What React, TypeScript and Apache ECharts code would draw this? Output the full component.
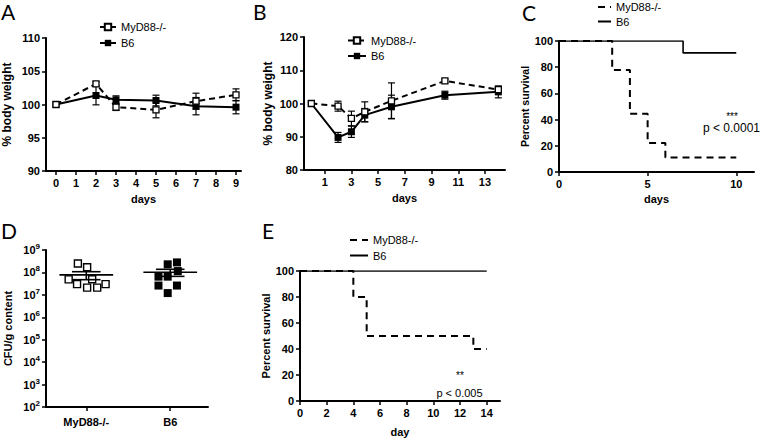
import React, { useEffect, useRef } from 'react';
import * as echarts from 'echarts';

// ---- Panel A: body weight ----
const aDays = [0, 2, 3, 5, 7, 9];
const aMyd88 = [100, 103.1, 99.6, 99.2, 100.5, 101.45];
const aMyd88Err = [0, 0.3, 0.5, 1.2, 1.2, 0.9];
const aB6 = [100, 101.35, 100.7, 100.6, 99.75, 99.6];
const aB6Err = [0, 1.4, 0.6, 0.8, 1.3, 1.0];
const aTicks = [0, 1, 2, 3, 4, 5, 6, 7, 8, 9];

// ---- Panel B: body weight ----
const bDays = [0, 2, 3, 4, 6, 10, 14];
const bMyd88 = [100, 99.2, 95.5, 97.5, 100.8, 106.8, 104.2];
const bMyd88Err = [0, 1.5, 2.2, 3.0, 5.4, 0.5, 0.7];
const bB6 = [100, 89.8, 91.5, 96.5, 99.0, 102.5, 103.5];
const bB6Err = [0, 1.5, 1.7, 2.0, 3.5, 1.2, 1.8];
const bTicks = [1, 3, 5, 7, 9, 11, 13];

// ---- Panel C: survival ----
const cMyd88Days = [0, 3, 4, 5, 6, 10];
const cMyd88Surv = [100, 77.8, 44.4, 22.2, 11.1, 11.1];
const cB6Days = [0, 7, 10];
const cB6Surv = [100, 90.9, 90.9];
const cTicks = [0, 5, 10];

// ---- Panel D: CFU ----
const dGroups = ['MyD88-/-', 'B6'];
const dMyd88Cfu = [2.5e8, 1.7e8, 4.9e7, 5.0e7, 3.0e7, 2.1e7, 2.1e7, 3.0e7];
const dMyd88Jitter = [-0.1, 0.01, -0.21, 0.07, -0.11, 0.01, 0.13, 0.23];
const dB6Cfu = [2.3e8, 2.8e8, 1.15e8, 6.5e7, 6.5e7, 2.6e7, 2.6e7, 1.2e7];
const dB6Jitter = [-0.03, 0.08, 0.09, -0.14, -0.03, -0.14, 0.08, -0.03];

// ---- Panel E: survival ----
const eMyd88Days = [0, 4, 5, 13, 14];
const eMyd88Surv = [100, 80, 50, 40, 40];
const eB6Days = [0, 14];
const eB6Surv = [100, 100];
const eTicks = [0, 2, 4, 6, 8, 10, 12, 14];

const FONT = 'Liberation Sans, Arial, sans-serif';
const zip = (xs: number[], ys: number[]) => xs.map((x, i) => [x, ys[i]]);

function meanSem(v: number[]) {
  const n = v.length;
  const m = v.reduce((a, b) => a + b, 0) / n;
  const sd = Math.sqrt(v.reduce((a, b) => a + (b - m) * (b - m), 0) / (n - 1));
  return [m, sd / Math.sqrt(n)];
}

function axisBase(extra: any) {
  return {
    nameLocation: 'middle',
    axisLine: { show: true, onZero: false, lineStyle: { color: '#000', width: 2 } },
    axisTick: { show: true, length: 4, lineStyle: { color: '#000', width: 1.5 } },
    splitLine: { show: false },
    nameTextStyle: { color: '#000', fontWeight: 'bold', fontSize: 11, fontFamily: FONT },
    ...extra,
    axisLabel: { color: '#000', fontWeight: 'bold', fontSize: 11, fontFamily: FONT, margin: 6, ...(extra.axisLabel || {}) },
  };
}

function errSeries(days: number[], vals: number[], errs: number[], idx: number) {
  return {
    type: 'custom',
    xAxisIndex: idx,
    yAxisIndex: idx,
    z: 1,
    silent: true,
    data: days.map((d, i) => [d, vals[i], errs[i]]),
    renderItem: (_p: any, api: any) => {
      const x = api.value(0), y = api.value(1), e = api.value(2);
      if (!e) return { type: 'group', children: [] };
      const t = api.coord([x, y + e]);
      const b = api.coord([x, y - e]);
      const hw = 3.5;
      const st = { stroke: '#000', lineWidth: 1.2 };
      return {
        type: 'group',
        children: [
          { type: 'line', shape: { x1: t[0], y1: t[1], x2: b[0], y2: b[1] }, style: st },
          { type: 'line', shape: { x1: t[0] - hw, y1: t[1], x2: t[0] + hw, y2: t[1] }, style: st },
          { type: 'line', shape: { x1: b[0] - hw, y1: b[1], x2: b[0] + hw, y2: b[1] }, style: st },
        ],
      };
    },
  };
}

function weightLines(prefix: string, days: number[], my: number[], b6: number[], idx: number) {
  return [
    {
      name: prefix + '|MyD88-/-', type: 'line', xAxisIndex: idx, yAxisIndex: idx, z: 3,
      data: zip(days, my), symbol: 'rect', symbolSize: 6,
      lineStyle: { color: '#000', width: 2, type: [6, 4] },
      itemStyle: { color: '#fff', borderColor: '#000', borderWidth: 1.3 },
    },
    {
      name: prefix + '|B6', type: 'line', xAxisIndex: idx, yAxisIndex: idx, z: 2,
      data: zip(days, b6), symbol: 'rect', symbolSize: 7,
      lineStyle: { color: '#000', width: 2, type: 'solid' },
      itemStyle: { color: '#000', borderColor: '#000', borderWidth: 0 },
    },
  ];
}

function survLines(prefix: string, myD: number[], myS: number[], b6D: number[], b6S: number[], idx: number) {
  return [
    {
      name: prefix + '|MyD88-/-', type: 'line', step: 'end', xAxisIndex: idx, yAxisIndex: idx, z: 3,
      data: zip(myD, myS), symbol: 'none',
      lineStyle: { color: '#000', width: 2, type: [7, 5] },
      itemStyle: { color: '#000' },
    },
    {
      name: prefix + '|B6', type: 'line', step: 'end', xAxisIndex: idx, yAxisIndex: idx, z: 2,
      data: zip(b6D, b6S), symbol: 'none',
      lineStyle: { color: '#000', width: 1.6, type: 'solid' },
      itemStyle: { color: '#000' },
    },
  ];
}

function legend(prefix: string, left: number, top: number, itemWidth: number, itemGap: number, itemHeight: number, hideSymbol: boolean) {
  const names = [prefix + '|MyD88-/-', prefix + '|B6'];
  return {
    left, top, orient: 'vertical', padding: 0, itemWidth, itemHeight, itemGap,
    selectedMode: false,
    data: hideSymbol ? names.map((n) => ({ name: n, itemStyle: { opacity: 0 } })) : names,
    formatter: (n: string) => n.split('|')[1],
    textStyle: { color: '#000', fontSize: 11, fontFamily: FONT },
  };
}

export default function App() {
  const ref = useRef<HTMLDivElement>(null);
  useEffect(() => {
    document.body.style.margin = '0';
    const chart = echarts.init(ref.current!, null, { renderer: 'svg' });
    const dMy = meanSem(dMyd88Cfu);
    const dB = meanSem(dB6Cfu);

    const option: any = {
      animation: false,
      textStyle: { fontFamily: FONT },
      grid: [
        { left: 46, top: 38, width: 195, height: 133 },
        { left: 304, top: 37, width: 201, height: 133 },
        { left: 559, top: 41, width: 195, height: 131 },
        { left: 46, top: 250, width: 162, height: 157 },
        { left: 300, top: 271, width: 200, height: 134 },
      ],
      xAxis: [
        axisBase({ gridIndex: 0, type: 'value', min: -0.5, max: 9.25, name: 'days', nameGap: 22,
          axisLabel: { customValues: aTicks }, axisTick: { show: true, length: 4, customValues: aTicks, lineStyle: { color: '#000', width: 1.5 } } }),
        axisBase({ gridIndex: 1, type: 'value', min: -0.55, max: 14.5, name: 'days', nameGap: 22,
          axisLabel: { customValues: bTicks }, axisTick: { show: true, length: 4, customValues: bTicks, lineStyle: { color: '#000', width: 1.5 } } }),
        axisBase({ gridIndex: 2, type: 'value', min: 0, max: 11, name: 'days', nameGap: 21,
          axisLabel: { customValues: cTicks }, axisTick: { show: true, length: 4, customValues: cTicks, lineStyle: { color: '#000', width: 1.5 } } }),
        axisBase({ gridIndex: 3, type: 'value', min: 0.52, max: 2.45,
          axisLabel: { customValues: [1, 2], formatter: (v: number) => dGroups[Math.round(v) - 1] || '', margin: 9 },
          axisTick: { show: true, length: 4, customValues: [1, 2], lineStyle: { color: '#000', width: 1.5 } } }),
        axisBase({ gridIndex: 4, type: 'value', min: 0, max: 15, name: 'day', nameGap: 25,
          axisLabel: { customValues: eTicks }, axisTick: { show: true, length: 4, customValues: eTicks, lineStyle: { color: '#000', width: 1.5 } } }),
      ],
      yAxis: [
        axisBase({ gridIndex: 0, type: 'value', min: 90, max: 110, interval: 5, name: '% body weight', nameGap: 33,
          nameTextStyle: { color: '#000', fontWeight: 'bold', fontSize: 12, fontFamily: FONT } }),
        axisBase({ gridIndex: 1, type: 'value', min: 80, max: 120, interval: 10, name: '% body weight', nameGap: 30,
          nameTextStyle: { color: '#000', fontWeight: 'bold', fontSize: 12, fontFamily: FONT } }),
        axisBase({ gridIndex: 2, type: 'value', min: 0, max: 100, interval: 20, name: 'Percent survival', nameGap: 28,
          nameTextStyle: { color: '#000', fontWeight: 'bold', fontSize: 10.5, fontFamily: FONT } }),
        axisBase({ gridIndex: 3, type: 'log', logBase: 10, min: 1e2, max: 1e9, name: 'CFU/g content', nameGap: 33,
          axisLabel: {
            formatter: (v: number) => '{b|10}{s|' + Math.round(Math.log10(v)) + '}',
            rich: {
              b: { fontSize: 11, fontWeight: 'bold', color: '#000', fontFamily: FONT },
              s: { fontSize: 8, fontWeight: 'bold', color: '#000', fontFamily: FONT, padding: [0, 0, 7, 0] },
            },
          } }),
        axisBase({ gridIndex: 4, type: 'value', min: 0, max: 100, interval: 20, name: 'Percent survival', nameGap: 27 }),
      ],
      legend: [
        legend('A', 99, 21.5, 16, 5, 8, false),
        legend('B', 347, 35, 18, 4.5, 8, false),
        legend('C', 597, 1.5, 13, 3.5, 9, true),
        legend('E', 349, 234.5, 18, 4.5, 9, true),
      ],
      series: [
        errSeries(aDays, aMyd88, aMyd88Err, 0),
        errSeries(aDays, aB6, aB6Err, 0),
        ...weightLines('A', aDays, aMyd88, aB6, 0),
        errSeries(bDays, bMyd88, bMyd88Err, 1),
        errSeries(bDays, bB6, bB6Err, 1),
        ...weightLines('B', bDays, bMyd88, bB6, 1),
        ...survLines('C', cMyd88Days, cMyd88Surv, cB6Days, cB6Surv, 2),
        {
          type: 'scatter', xAxisIndex: 3, yAxisIndex: 3, symbol: 'rect', symbolSize: 7, z: 3,
          data: dMyd88Cfu.map((v, i) => [1 + dMyd88Jitter[i], v]),
          itemStyle: { color: '#fff', borderColor: '#000', borderWidth: 1.4, opacity: 1 },
        },
        {
          type: 'scatter', xAxisIndex: 3, yAxisIndex: 3, symbol: 'rect', symbolSize: 8, z: 3,
          data: dB6Cfu.map((v, i) => [2 + dB6Jitter[i], v]),
          itemStyle: { color: '#000', opacity: 1 },
        },
        {
          type: 'custom', xAxisIndex: 3, yAxisIndex: 3, z: 4, silent: true,
          data: [[1, dMy[0], dMy[1]], [2, dB[0], dB[1]]],
          renderItem: (_p: any, api: any) => {
            const x = api.value(0), m = api.value(1), s = api.value(2);
            const st = { stroke: '#000', lineWidth: 1.6 };
            const a = api.coord([x - 0.32, m]), b = api.coord([x + 0.32, m]);
            const ua = api.coord([x - 0.17, m + s]), ub = api.coord([x + 0.17, m + s]);
            const la = api.coord([x - 0.17, m - s]), lb = api.coord([x + 0.17, m - s]);
            const c = api.coord([x, m]);
            return {
              type: 'group',
              children: [
                { type: 'line', shape: { x1: a[0], y1: a[1], x2: b[0], y2: b[1] }, style: st },
                { type: 'line', shape: { x1: ua[0], y1: ua[1], x2: ub[0], y2: ub[1] }, style: st },
                { type: 'line', shape: { x1: la[0], y1: la[1], x2: lb[0], y2: lb[1] }, style: st },
                { type: 'line', shape: { x1: c[0], y1: ua[1], x2: c[0], y2: la[1] }, style: st },
              ],
            };
          },
        },
        ...survLines('E', eMyd88Days, eMyd88Surv, eB6Days, eB6Surv, 4),
      ],
      graphic: [
        { type: 'text', x: 1, y: 1, style: { text: 'A', fontSize: 21, fontFamily: 'Lato, sans-serif', fill: '#000' } },
        { type: 'text', x: 253, y: 1, style: { text: 'B', fontSize: 21, fontFamily: 'Lato, sans-serif', fill: '#000' } },
        { type: 'text', x: 522, y: 2, style: { text: 'C', fontSize: 21, fontFamily: 'Lato, sans-serif', fill: '#000' } },
        { type: 'text', x: 1, y: 220, style: { text: 'D', fontSize: 21, fontFamily: 'Lato, sans-serif', fill: '#000' } },
        { type: 'text', x: 262, y: 220, style: { text: 'E', fontSize: 21, fontFamily: 'Lato, sans-serif', fill: '#000' } },
        { type: 'text', x: 732, y: 121.3, style: { text: '***', fontSize: 10, fontFamily: FONT, fill: '#000', align: 'center', verticalAlign: 'bottom' } },
        { type: 'text', x: 760, y: 128, style: { text: 'p < 0.0001', fontSize: 12, fontFamily: FONT, fill: '#000', align: 'right', verticalAlign: 'middle' } },
        { type: 'text', x: 460, y: 380, style: { text: '**', fontSize: 10, fontFamily: FONT, fill: '#000', align: 'center', verticalAlign: 'bottom' } },
        { type: 'text', x: 459.5, y: 393, style: { text: 'p < 0.005', fontSize: 11, fontFamily: FONT, fill: '#000', align: 'center', verticalAlign: 'middle' } },
      ],
    };
    chart.setOption(option);
    return () => chart.dispose();
  }, []);
  return <div ref={ref} style={{ width: 760, height: 438 }} />;
}
